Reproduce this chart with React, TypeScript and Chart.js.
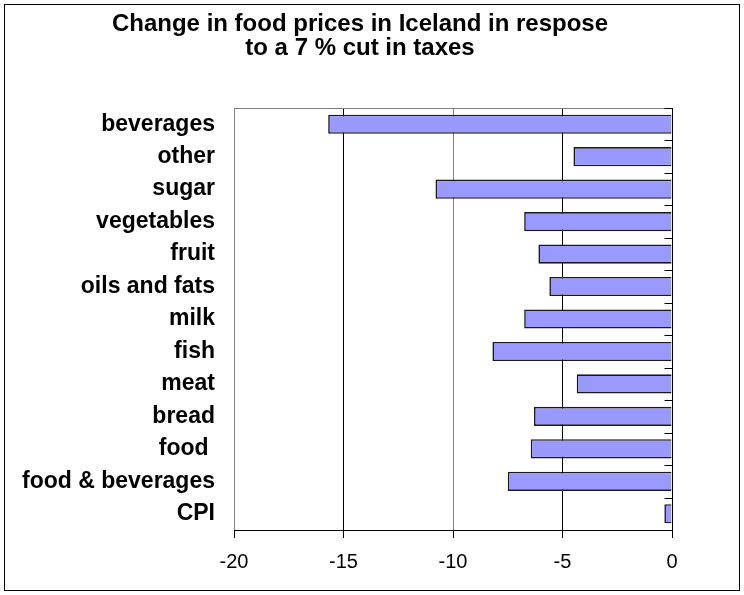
import React, { useEffect, useRef } from 'react';
import { Chart, CategoryScale, registerables } from 'chart.js';

class UnclippedCategoryScale extends (CategoryScale as any) {
  static id = 'categoryUnclipped';
  static defaults = (CategoryScale as any).defaults;
  _computeLabelArea() {
    return undefined;
  }
}

Chart.register(...registerables, UnclippedCategoryScale as any);

const categories = ['beverages', 'other', 'sugar', 'vegetables', 'fruit', 'oils and fats', 'milk', 'fish', 'meat', 'bread', 'food ', 'food & beverages', 'CPI'];
const values = [-15.7, -4.5, -10.8, -6.75, -6.1, -5.6, -6.75, -8.2, -4.35, -6.3, -6.45, -7.5, -0.35];
const titleLines = ['Change in food prices in Iceland in respose', 'to a 7 % cut in taxes'];
const xMin = -20;
const xMax = 0;
const xStep = 5;

const FONT = '"Liberation Sans", Arial, sans-serif';

const framePlugin = {
  id: 'frame',
  beforeDraw(chart: any) {
    const ctx = chart.ctx;
    ctx.save();
    ctx.fillStyle = '#fff';
    ctx.fillRect(0, 0, chart.width, chart.height);
    ctx.restore();
  },
  afterDatasetsDraw(chart: any) {
    const ctx = chart.ctx;
    const { top, bottom, left, right } = chart.chartArea;
    const xs = chart.scales.x;
    const n = categories.length;
    ctx.save();
    ctx.strokeStyle = '#808080';
    ctx.lineWidth = 1;
    ctx.beginPath();
    ctx.moveTo(left, Math.round(top) + 0.5);
    ctx.lineTo(right, Math.round(top) + 0.5);
    ctx.stroke();
    const x0 = Math.round(xs.getPixelForValue(0)) + 0.5;
    ctx.strokeStyle = '#000';
    ctx.beginPath();
    ctx.moveTo(x0, top);
    ctx.lineTo(x0, bottom);
    ctx.stroke();
    const h = (bottom - top) / n;
    for (let i = 0; i <= n; i++) {
      const py = Math.round(top + i * h) + 0.5;
      ctx.beginPath();
      ctx.moveTo(x0 - 8, py);
      ctx.lineTo(x0, py);
      ctx.stroke();
    }
    ctx.strokeRect(4.5, 4.5, chart.width - 9, chart.height - 9);
    ctx.restore();
  },
};

export default function App() {
  const ref = useRef<HTMLCanvasElement | null>(null);
  useEffect(() => {
    if (!ref.current) return;
    const chart = new Chart(ref.current, {
      type: 'bar',
      data: {
        labels: categories,
        datasets: [
          {
            data: values,
            backgroundColor: '#9999FF',
            borderColor: '#1a1a1a',
            borderWidth: 1.6,
            barPercentage: 0.59,
            categoryPercentage: 1,
          },
        ],
      },
      options: {
        indexAxis: 'y',
        responsive: false,
        animation: false,
        devicePixelRatio: 1,
        layout: { padding: { left: 48, right: 72, top: 0, bottom: 0 } },
        plugins: {
          legend: { display: false },
          tooltip: { enabled: false },
          title: {
            display: true,
            text: titleLines,
            color: '#000',
            font: { family: FONT, size: 24, weight: 'bold', lineHeight: 1.0 },
            padding: { top: 12, bottom: 48 },
          },
        },
        scales: {
          x: {
            min: xMin,
            max: xMax,
            ticks: {
              stepSize: xStep,
              color: '#000',
              font: { family: FONT, size: 20 },
              padding: 12,
            },
            grid: {
              color: (c: any) => (c.tick && (c.tick.value === -20 || c.tick.value === -10) ? '#808080' : '#000'),
              tickColor: '#000',
              tickLength: 8,
              drawOnChartArea: true,
            },
            border: { display: true, color: '#000', width: 1 },
            afterFit: (s: any) => {
              s.height = 65;
            },
          },
          y: {
            type: 'categoryUnclipped' as any,
            ticks: {
              color: '#000',
              font: { family: FONT, size: 23, weight: 'bold' },
              padding: 11,
            },
            grid: { display: false },
            border: { display: false },
            afterFit: (s: any) => {
              s.width = 186;
            },
          },
        },
      },
      plugins: [framePlugin],
    });
    return () => chart.destroy();
  }, []);
  return (
    <div style={{ position: 'fixed', left: 0, top: 0, width: 744, height: 595, background: '#fff' }}>
      <canvas ref={ref} width={744} height={595} style={{ display: 'block', width: 744, height: 595 }} />
    </div>
  );
}
